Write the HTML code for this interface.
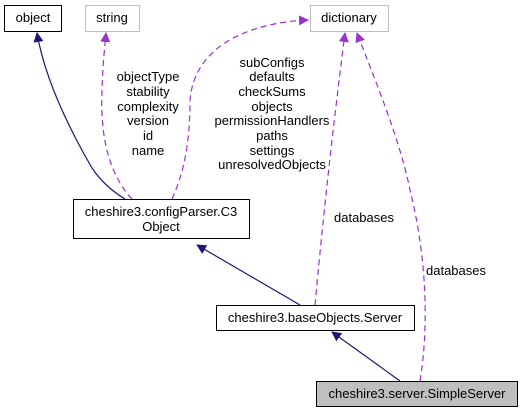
<!DOCTYPE html>
<html><head><style>body{margin:0;background:#fff}svg{display:block}text{font-family:"Liberation Sans",sans-serif;font-size:13px}</style></head><body>
<svg width="527" height="413" viewBox="0 0 527 413">
<defs>
<marker id="a" markerWidth="10" markerHeight="10" refX="9" refY="5" orient="auto" markerUnits="userSpaceOnUse"><path d="M0,0 L10,5 L0,10 z" fill="#191970"/></marker>
<marker id="p" markerWidth="10" markerHeight="10" refX="9" refY="5" orient="auto" markerUnits="userSpaceOnUse"><path d="M0,0 L10,5 L0,10 z" fill="#9a32cd"/></marker>
</defs>
<g fill="none" stroke-width="1.2">
<path d="M125,199 C110,190 100,180 92,168 C70,130 45,80 37,33" stroke="#191970" marker-end="url(#a)"/>
<path d="M300,305 L197,245" stroke="#191970" marker-end="url(#a)"/>
<path d="M400,381 L332,332" stroke="#191970" marker-end="url(#a)"/>
<g stroke="#9a32cd" stroke-dasharray="6,4">
<path d="M132,199 C110,175 100,140 102,90 C103,60 105,45 106,33" marker-end="url(#p)"/>
<path d="M172,199 C185,170 190,140 190,100 C195,40 260,22 308,20" marker-end="url(#p)"/>
<path d="M315,305 C320,250 330,150 345,33" marker-end="url(#p)"/>
<path d="M420,381 C430,320 425,250 410,190 C400,140 375,80 357,33" marker-end="url(#p)"/>
</g>
</g>
<rect x="4.5" y="5.5" width="57" height="26" fill="#fff" stroke="#000"/>
<text x="33" y="22" text-anchor="middle">object</text>
<rect x="85.5" y="5.5" width="54" height="26" fill="#fff" stroke="#bfbfbf"/>
<text x="112" y="22" text-anchor="middle">string</text>
<rect x="310.5" y="5.5" width="78" height="26" fill="#fff" stroke="#bfbfbf"/>
<text x="349" y="22" text-anchor="middle">dictionary</text>
<rect x="73.5" y="199.5" width="176" height="39" fill="#fff" stroke="#000"/>
<text x="161" y="216" text-anchor="middle">cheshire3.configParser.C3</text>
<text x="161" y="231" text-anchor="middle">Object</text>
<rect x="216.5" y="305.5" width="198" height="25" fill="#fff" stroke="#000"/>
<text x="315" y="322" text-anchor="middle">cheshire3.baseObjects.Server</text>
<rect x="316.5" y="381.5" width="201" height="25" fill="#bfbfbf" stroke="#000"/>
<text x="417" y="398" text-anchor="middle">cheshire3.server.SimpleServer</text>
<g text-anchor="middle">
<text x="148" y="81">objectType</text><text x="148" y="96">stability</text><text x="148" y="111">complexity</text><text x="148" y="125">version</text><text x="148" y="140">id</text><text x="148" y="155">name</text>
<text x="272" y="67">subConfigs</text><text x="272" y="81">defaults</text><text x="272" y="96">checkSums</text><text x="272" y="111">objects</text><text x="272" y="125">permissionHandlers</text><text x="272" y="140">paths</text><text x="272" y="155">settings</text><text x="272" y="169">unresolvedObjects</text>
<text x="364" y="222">databases</text>
<text x="456" y="275">databases</text>
</g>
</svg>
</body></html>
